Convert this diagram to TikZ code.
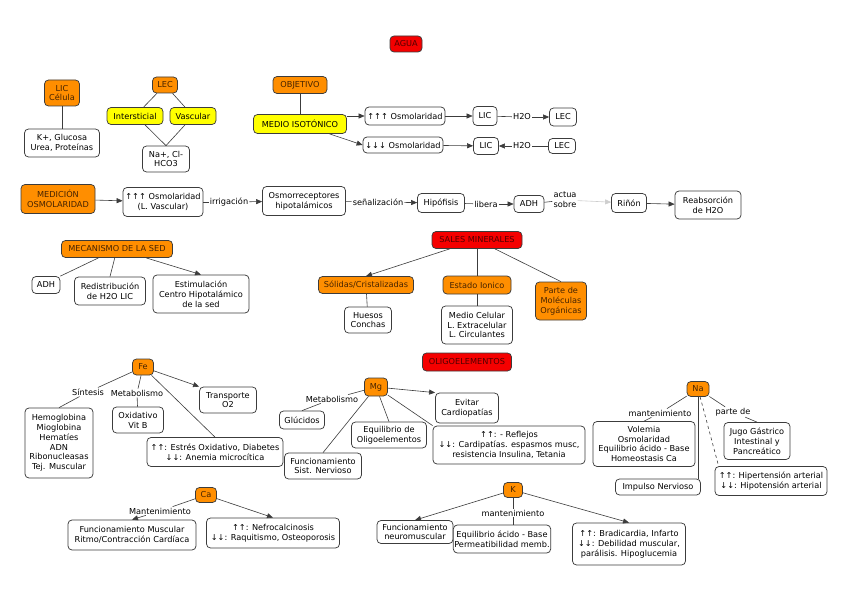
\documentclass[tikz,border=0pt]{standalone}
\usepackage{fontspec}
\setmainfont{DejaVu Sans}
\usetikzlibrary{arrows.meta,calc}
\definecolor{orangec}{RGB}{255,142,0}
\definecolor{yellowc}{RGB}{255,255,0}
\definecolor{redc}{RGB}{245,0,0}
\definecolor{bordc}{RGB}{60,60,60}
\definecolor{linec}{RGB}{60,60,60}
\definecolor{otext}{RGB}{70,35,0}
\definecolor{rtext}{RGB}{80,0,0}
\newcommand\fsz{\fontsize{8.2}{9.8}\selectfont}
\tikzset{
  box/.style={draw=bordc, rounded corners=4pt, line width=0.75pt, align=center, inner sep=1pt, font=\fsz, text=black},
  wbox/.style={box, fill=white},
  obox/.style={box, fill=orangec, text=otext},
  ybox/.style={box, fill=yellowc},
  rbox/.style={box, fill=redc, text=rtext},
  lbl/.style={fill=white, inner sep=1pt, align=center, font=\fsz},
  conn/.style={draw=linec, line width=0.6pt},
  arr/.style={conn, -{Triangle[length=6pt,width=5pt]}},
  dconn/.style={conn, dashed},
}
\begin{document}
\begin{tikzpicture}[x=1pt,y=-1pt]
\useasboundingbox[fill=white] (0,0) rectangle (848,599);

% AGUA section
\node[rbox, minimum width=32pt, minimum height=16pt] (agua) at (406,44) {AGUA};
\node[obox, minimum width=35pt, minimum height=26pt] (licc) at (62,93) {LIC\\Célula};
\node[wbox, minimum width=75pt, minimum height=28pt] (kglu) at (62,143) {K+, Glucosa\\Urea, Proteínas};
\node[obox, minimum width=25pt, minimum height=16pt] (lec) at (165,85) {LEC};
\node[ybox, minimum width=56pt, minimum height=17pt] (intr) at (135,116) {Intersticial};
\node[ybox, minimum width=46pt, minimum height=17pt] (vasc) at (193,116) {Vascular};
\node[wbox, minimum width=47pt, minimum height=26pt] (nacl) at (166,159) {Na+, Cl-\\HCO3};

\node[obox, minimum width=54pt, minimum height=17pt] (obj) at (300,85) {OBJETIVO};
\node[ybox, minimum width=93pt, minimum height=19pt] (medio) at (300,124) {MEDIO ISOTÓNICO};
\node[wbox, minimum width=80pt, minimum height=18pt] (uposm) at (405,116) {↑↑↑ Osmolaridad};
\node[wbox, minimum width=80pt, minimum height=16pt] (dnosm) at (403,145) {↓↓↓ Osmolaridad};
\node[wbox, minimum width=24pt, minimum height=19pt] (lic1) at (485,116) {LIC};
\node[wbox, minimum width=27pt, minimum height=18pt] (lec1) at (563,117) {LEC};
\node[wbox, minimum width=25pt, minimum height=17pt] (lic2) at (486,146) {LIC};
\node[wbox, minimum width=27pt, minimum height=15pt] (lec2) at (562,146) {LEC};
\node[lbl] (h2oa) at (522,117) {H2O};
\node[lbl] (h2ob) at (522,146) {H2O};

% Medicion row
\node[obox, minimum width=74pt, minimum height=29pt] (medic) at (58,199) {MEDICIÓN\\OSMOLARIDAD};
\node[wbox, minimum width=80pt, minimum height=29pt] (osmlv) at (163,202) {↑↑↑ Osmolaridad\\(L. Vascular)};
\node[wbox, minimum width=83pt, minimum height=29pt] (osmrec) at (304,201) {Osmorreceptores\\hipotalámicos};
\node[wbox, minimum width=47pt, minimum height=19pt] (hipo) at (441,203) {Hipófisis};
\node[wbox, minimum width=30pt, minimum height=17pt] (adh1) at (529,204) {ADH};
\node[wbox, minimum width=35pt, minimum height=19pt] (rinon) at (629,203) {Riñón};
\node[wbox, minimum width=66pt, minimum height=28pt] (reabs) at (708,205) {Reabsorción\\de H2O};
\node[lbl] (irr) at (229,202) {irrigación};
\node[lbl] (senal) at (378,202) {señalización};
\node[lbl] (libera) at (486,204) {libera};
\node[lbl] (actua) at (565,200) {actua\\sobre};

% Mecanismo de la sed
\node[obox, minimum width=111pt, minimum height=17pt] (mecan) at (117,249) {MECANISMO DE LA SED};
\node[wbox, minimum width=28pt, minimum height=17pt] (adh2) at (46,285) {ADH};
\node[wbox, minimum width=71pt, minimum height=28pt] (redis) at (110,291) {Redistribución\\de H2O LIC};
\node[wbox, minimum width=96pt, minimum height=38pt] (estim) at (201,294) {Estimulación\\Centro Hipotalámico\\de la sed};

% Sales minerales
\node[rbox, minimum width=90pt, minimum height=17pt] (sales) at (477,240) {SALES MINERALES};
\node[obox, minimum width=95pt, minimum height=17pt] (solid) at (366,285) {Sólidas/Cristalizadas};
\node[wbox, minimum width=47pt, minimum height=26pt] (huesos) at (368,320) {Huesos\\Conchas};
\node[obox, minimum width=68pt, minimum height=18pt] (estado) at (477,285) {Estado Ionico};
\node[wbox, minimum width=71pt, minimum height=38pt] (medcel) at (477,325) {Medio Celular\\L. Extracelular\\L. Circulantes};
\node[obox, minimum width=51pt, minimum height=38pt] (parte) at (561,301) {Parte de\\Moléculas\\Orgánicas};

% Oligoelementos
\node[rbox, minimum width=89pt, minimum height=18pt] (oligo) at (467,362) {OLIGOELEMENTOS};

% Fe
\node[obox, minimum width=21pt, minimum height=16pt] (fe) at (143,367) {Fe};
\node[wbox, minimum width=57pt, minimum height=26pt] (transp) at (228,400) {Transporte\\O2};
\node[wbox, minimum width=68pt, minimum height=70pt] (hemo) at (59,443) {Hemoglobina\\Mioglobina\\Hematíes\\ADN\\Ribonucleasas\\Tej. Muscular};
\node[wbox, minimum width=51pt, minimum height=26pt] (oxid) at (138,420) {Oxidativo\\Vit B};
\node[wbox, minimum width=136pt, minimum height=29pt] (estres) at (215,452) {↑↑: Estrés Oxidativo, Diabetes\\↓↓: Anemia microcítica};
\node[lbl] (sint) at (88,392) {Síntesis};
\node[lbl] (metfe) at (137,393) {Metabolismo};

% Mg
\node[obox, minimum width=23pt, minimum height=18pt] (mg) at (376,387) {Mg};
\node[wbox, minimum width=63pt, minimum height=30pt] (evitar) at (467,408) {Evitar\\Cardiopatías};
\node[wbox, minimum width=45pt, minimum height=18pt] (gluc) at (302,420) {Glúcidos};
\node[wbox, minimum width=75pt, minimum height=26pt] (equil) at (389,435) {Equilibrio de\\Oligoelementos};
\node[wbox, minimum width=77pt, minimum height=26pt] (funcsn) at (323,466) {Funcionamiento\\Sist. Nervioso};
\node[wbox, minimum width=152pt, minimum height=38pt] (refl) at (509,445) {↑↑: - Reflejos\\↓↓: Cardipatías. espasmos musc,\\resistencia Insulina, Tetania};
\node[lbl] (metmg) at (332,399) {Metabolismo};

% Na
\node[obox, minimum width=22pt, minimum height=15pt] (na) at (698,389) {Na};
\node[wbox, minimum width=102pt, minimum height=45pt] (volem) at (644,444) {Volemia\\Osmolaridad\\Equilibrio ácido - Base\\Homeostasis Ca};
\node[wbox, minimum width=66pt, minimum height=37pt] (jugo) at (757,441) {Jugo Gástrico\\Intestinal y\\Pancreático};
\node[wbox, minimum width=112pt, minimum height=29pt] (hiper) at (771,481) {↑↑: Hipertensión arterial\\↓↓: Hipotensión arterial};
\node[wbox, minimum width=85pt, minimum height=16pt] (impul) at (658,487) {Impulso Nervioso};
\node[lbl] (mantna) at (660,413) {mantenimiento};
\node[lbl] (partede) at (733,412) {parte de};

% Ca
\node[obox, minimum width=21pt, minimum height=15pt] (ca) at (206,495) {Ca};
\node[wbox, minimum width=128pt, minimum height=30pt] (funcmus) at (132,535) {Funcionamiento Muscular\\Ritmo/Contracción Cardíaca};
\node[wbox, minimum width=133pt, minimum height=30pt] (nefro) at (273,533) {↑↑: Nefrocalcinosis\\↓↓: Raquitismo, Osteoporosis};
\node[lbl] (mantca) at (160,511) {Mantenimiento};

% K
\node[obox, minimum width=19pt, minimum height=15pt] (k) at (513,490) {K};
\node[wbox, minimum width=76pt, minimum height=23pt] (fneuro) at (415,532) {Funcionamiento\\neuromuscular};
\node[wbox, minimum width=85pt, minimum height=28pt] (eqab) at (502,539) {Equilibrio ácido - Base\\Permeatibilidad memb.};
\node[wbox, minimum width=113pt, minimum height=42pt] (brad) at (629,544) {↑↑: Bradicardia, Infarto\\↓↓: Debilidad muscular,\\parálisis. Hipoglucemia};
\node[lbl] (mantk) at (513,513) {mantenimiento};

% ---------- connectors ----------
\draw[conn] (licc) -- (kglu);
\draw[conn] (lec) -- (intr);
\draw[conn] (lec) -- (vasc);
\draw[conn] ([xshift=10pt]intr.south) -- (nacl.north);
\draw[conn] ([xshift=-8pt]vasc.south) -- (nacl.north);

\draw[conn] (obj) -- (medio);
\draw[arr] (medio.east |- uposm.west) -- (uposm.west);
\draw[arr] (medio) -- (dnosm.west);
\draw[arr] (uposm) -- (lic1);
\draw[conn] (lic1) -- (h2oa);
\draw[arr] (h2oa) -- (lec1);
\draw[arr] (dnosm) -- (lic2);
\draw[conn] (lec2) -- (h2ob);
\draw[arr] (h2ob) -- (lic2);

\draw[arr] (medic) -- (osmlv);
\draw[conn] (osmlv) -- (irr);
\draw[arr] (irr) -- (osmrec);
\draw[conn] (osmrec) -- (senal);
\draw[arr] (senal) -- (hipo);
\draw[conn] (hipo) -- (libera);
\draw[arr] (libera) -- (adh1);
\draw[conn] (adh1) -- (actua);
\draw[arr, draw=linec!25] (actua) -- (rinon);
\draw[arr] (rinon) -- (reabs);

\draw[conn] (mecan) -- (adh2.north east);
\draw[conn] (mecan) -- (redis.north);
\draw[arr] (mecan) -- (estim.north);

\draw[arr] (sales) -- (solid.north);
\draw[conn] (solid) -- (huesos);
\draw[conn] (sales) -- (estado);
\draw[conn] (estado) -- (medcel);
\draw[conn] (sales) -- (parte.north);

\draw[arr] (fe) -- (transp.north west);
\draw[conn] (fe) -- (sint);
\draw[conn] (sint) -- (hemo.north);
\draw[conn] (fe) -- (metfe);
\draw[conn] (metfe) -- (oxid);
\draw[conn] (fe) -- (estres.north);

\draw[arr] (mg) -- (evitar.north west);
\draw[conn] (mg) -- (metmg);
\draw[conn] (metmg) -- (gluc.north);
\draw[conn] (mg) -- (equil.north);
\draw[conn] (mg) -- (funcsn.north);
\draw[conn] (mg) -- (refl.north west);

\draw[conn] (na) -- (mantna);
\draw[conn] (mantna) -- (volem.north);
\draw[conn] (na) -- (partede);
\draw[conn] (partede) -- (jugo.north);
\draw[conn] (na.south) -- (na.south |- impul.north);
\draw[dconn] (na) -- ([xshift=4pt]hiper.north west);

\draw[conn] (ca) -- (mantca);
\draw[arr] (mantca) -- (funcmus.north);
\draw[arr] (ca) -- (nefro.north);

\draw[arr] (k) -- (fneuro.north);
\draw[conn] (k) -- (mantk);
\draw[conn] (mantk) -- (eqab.north -| mantk);
\draw[arr] (k) -- (brad.north);
\end{tikzpicture}
\end{document}
